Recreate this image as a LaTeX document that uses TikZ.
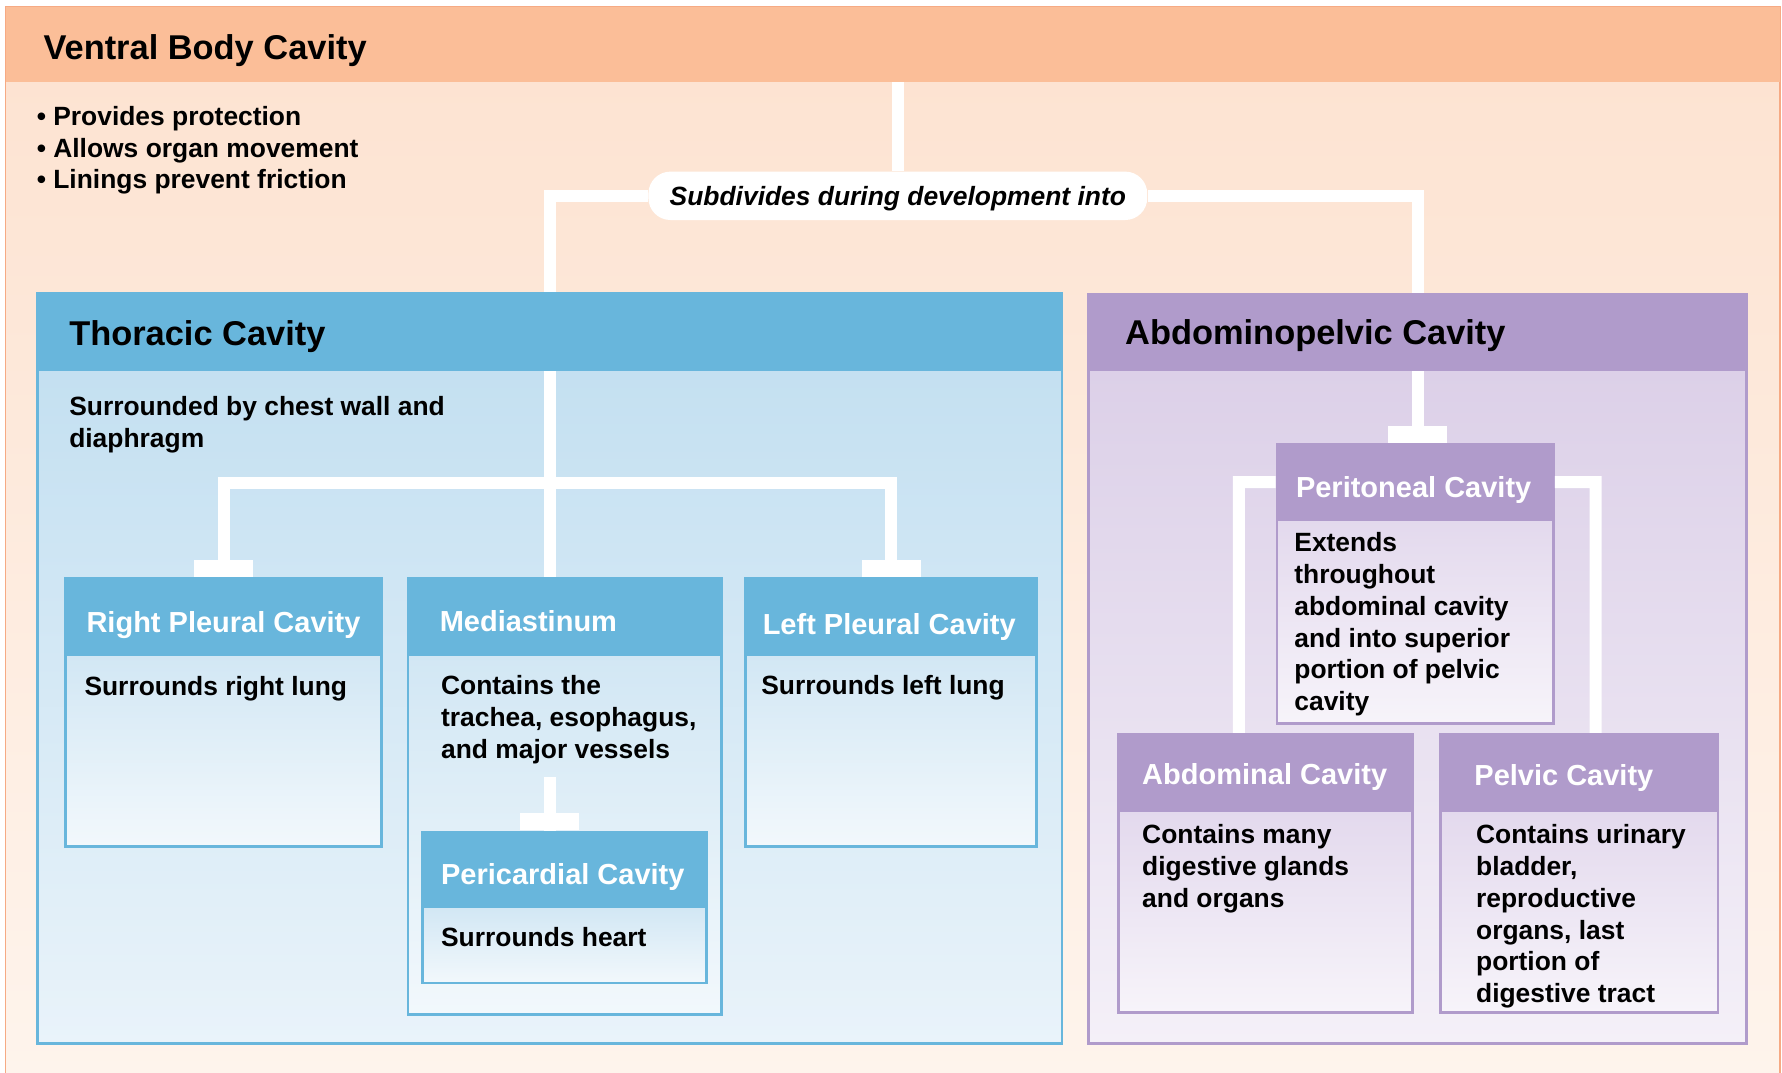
\documentclass[tikz,border=0pt]{standalone}
\usepackage{fontspec}
\setmainfont{Liberation Sans}
\usetikzlibrary{positioning, fit}
\definecolor{ventralhead}{HTML}{FBBE98}
\definecolor{ventraltop}{HTML}{FDE2D0}
\definecolor{ventralbot}{HTML}{FEF4EC}
\definecolor{ventralline}{HTML}{F6AA84}
\definecolor{thorhead}{HTML}{68B6DC}
\definecolor{thortop}{HTML}{C4E0F1}
\definecolor{thorbot}{HTML}{E9F3FA}
\definecolor{thorsubtop}{HTML}{D2E7F4}
\definecolor{thorsubbot}{HTML}{F2F8FC}
\definecolor{abdhead}{HTML}{B09BCB}
\definecolor{abdtop}{HTML}{DCD0E8}
\definecolor{abdbot}{HTML}{F4F0F8}
\definecolor{abdsubtop}{HTML}{E3D9ED}
\definecolor{abdsubbot}{HTML}{F7F4FA}

\begin{document}
\begin{tikzpicture}[x=0.5682pt, y=-0.5682pt,
  band/.style={inner sep=0pt, line width=1.4pt},
  vback/.style={inner sep=0pt, line width=0.8pt, draw=ventralline,
    top color=ventraltop, bottom color=ventralbot},
  vhead/.style={inner sep=0pt, fill=ventralhead},
  thead/.style={band, fill=thorhead, draw=thorhead},
  tbody/.style={band, draw=thorhead, top color=thortop, bottom color=thorbot},
  tsub/.style={band, draw=thorhead, top color=thorsubtop, bottom color=thorsubbot},
  ahead/.style={band, fill=abdhead, draw=abdhead},
  abody/.style={band, draw=abdhead, top color=abdtop, bottom color=abdbot},
  asub/.style={band, draw=abdhead, top color=abdsubtop, bottom color=abdsubbot},
  bigtitle/.style={anchor=base west, inner sep=0pt,
    font=\fontsize{17.2}{20}\selectfont\bfseries},
  subtitle/.style={anchor=base west, inner sep=0pt, text=white,
    font=\fontsize{14.5}{17}\selectfont\bfseries},
  txt/.style={anchor=base west, inner sep=0pt, align=left,
    font=\fontsize{13.2}{15.9}\selectfont\bfseries},
  pill/.style={fill=white, rounded corners=11pt, inner sep=0pt,
    minimum width=249.4pt, minimum height=24.2pt, text depth=0pt,
    font=\fontsize{13.2}{15.9}\selectfont\bfseries\itshape},
  link/.style={draw=white, line width=6pt},
  capbox/.style={fill=white, inner sep=0pt, minimum width=29.5pt,
    minimum height=8.5pt, anchor=south}]
  \useasboundingbox (0,0) rectangle (1568,944);

  % text nodes of several lines are placed at the baseline of their last line
  \node[vback, fit={(5,6)(1566,950)}] (vbody) {};
  \node[vhead, fit={(5,6)(1566,72)}] (vbc) {};
  \node[bigtitle] (vbct) at (38,52) {Ventral Body Cavity};
  \node[txt] (vbcx) at (32,166.3) {\textbullet\ Provides protection\\
    \textbullet\ Allows organ movement\\\textbullet\ Linings prevent friction};
  \node[pill] (sub) at (790,172.3) {Subdivides during development into};

  \node[tbody, fit={(33.3,325.6)(934.5,918)}] (thorb) {};
  \node[thead, fit={(33.3,258)(934.5,325.6)}] (thor) {};
  \node[bigtitle] (thort) at (60.6,304) {Thoracic Cavity};
  \node[txt] (thorx) at (60.6,394) {Surrounded by chest wall and\\diaphragm};

  \node[abody, fit={(958,325.6)(1537,918.5)}] (abdb) {};
  \node[ahead, fit={(958,258.7)(1537,325.6)}] (abd) {};
  \node[bigtitle] (abdt) at (989.7,303.3) {Abdominopelvic Cavity};

  \draw[link] (sub.north) -- (sub.north |- vbc.south);
  \draw[link] (sub.west) -| (thor.north);
  \draw[link] (sub.east) -| (abd.north);

  \node[tsub, fit={(57.6,576.4)(336,745)}] (rpb) {};
  \node[thead, fit={(57.6,509)(336,576.4)}] (rp) {};
  \node[subtitle] (rpt) at (75.8,556.2) {Right Pleural Cavity};
  \node[txt] (rpx) at (74,611.7) {Surrounds right lung};

  \node[tsub, fit={(359,576.4)(634.5,893)}] (medb) {};
  \node[thead, fit={(359,509)(634.5,576.4)}] (med) {};
  \node[subtitle] (medt) at (386.6,555.5) {Mediastinum};
  \node[txt] (medx) at (387.8,667) {Contains the\\trachea, esophagus,\\and major vessels};

  \node[tsub, fit={(656,576.4)(912,745)}] (lpb) {};
  \node[thead, fit={(656,509)(912,576.4)}] (lp) {};
  \node[subtitle] (lpt) at (670.8,558) {Left Pleural Cavity};
  \node[txt] (lpx) at (669.5,611.5) {Surrounds left lung};

  \node[tsub, fit={(372,798)(622,865)}] (pcb) {};
  \node[thead, fit={(372,732)(622,798)}] (pc) {};
  \node[subtitle] (pct) at (387.8,778.7) {Pericardial Cavity};
  \node[txt] (pcx) at (387.8,833) {Surrounds heart};

  \coordinate (tj) at (thor.south |- 0,425);
  \coordinate (mv) at (thor.south |- 0,683.5);
  \draw[link] (thor.south) -- (thor.south |- med.north);
  \draw[link] (rp.north) |- (tj) -| (lp.north);
  \draw[link] (mv) -- (mv |- pc.north);
  \node[capbox] (rpcap) at (rp.north) {};
  \node[capbox] (lpcap) at (lp.north) {};
  \node[capbox] (pccap) at (mv |- pc.north) {};

  \node[asub, fit={(1123.6,457.6)(1367,636.7)}] (perb) {};
  \node[ahead, fit={(1123.6,391)(1367,457.6)}] (per) {};
  \node[subtitle] (pert) at (1140,437.7) {Peritoneal Cavity};
  \node[txt] (perx) at (1138.6,625.4) {Extends\\throughout\\abdominal cavity\\
    and into superior\\portion of pelvic\\cavity};

  \node[asub, fit={(984,713)(1242.6,891)}] (abcb) {};
  \node[ahead, fit={(984,646)(1242.6,713)}] (abc) {};
  \node[subtitle] (abct) at (1004.7,690) {Abdominal Cavity};
  \node[txt] (abcx) at (1004.7,798.6) {Contains many\\digestive glands\\and organs};

  \node[asub, fit={(1267.4,713)(1511.6,891)}] (pelb) {};
  \node[ahead, fit={(1267.4,646)(1511.6,713)}] (pel) {};
  \node[subtitle] (pelt) at (1297,691.4) {Pelvic Cavity};
  \node[txt] (pelx) at (1298.5,882.3) {Contains urinary\\bladder,\\reproductive\\
    organs, last\\portion of\\digestive tract};

  \coordinate (al) at (1090,424.3);
  \coordinate (ar) at (1404,424.3);
  \draw[link] (abd.south) -- (abd.south |- per.north);
  \node[capbox] (percap) at (abd.south |- per.north) {};
  \draw[link] (per.west) -- (al) -- (al |- abc.north);
  \draw[link] (per.east) -- (ar) -- (ar |- pel.north);
\end{tikzpicture}
\end{document}
